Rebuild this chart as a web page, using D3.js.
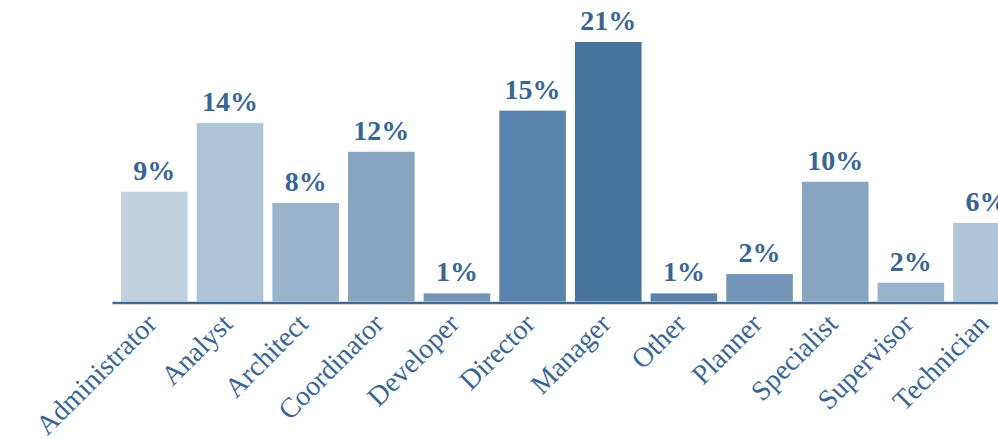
<!DOCTYPE html>
<html lang="en">
<head>
    <meta charset="UTF-8">
    <script src="https://cdnjs.cloudflare.com/ajax/libs/d3/7.8.5/d3.min.js"></script>
    <style>
        body {
            margin: 0;
            background: #fff;
        }

        svg text {
            font-family: "Times New Roman", Times, "Liberation Serif", serif;
        }
    </style>
</head>
<body>
<div id="chart"></div>

<script>
    var roles = ["Administrator", "Analyst", "Architect", "Coordinator", "Developer", "Director",
        "Manager", "Other", "Planner", "Specialist", "Supervisor", "Technician"];
    var shares = [8.8, 14.3, 7.9, 12.0, 0.65, 15.3, 20.8, 0.65, 2.2, 9.6, 1.5, 6.3];
    var barColors = ["#c1d0df", "#aec3d8", "#9ab3cc", "#87a5c1", "#7295b8", "#5a84ad",
        "#4775a0", "#5a84ad", "#7295b8", "#87a5c1", "#9ab3cc", "#aec3d8"];

    var width = 998, height = 439;
    var textColor = "#386593";
    var step = 75.65;

    var svg = d3.select("#chart").append("svg")
        .attr("width", width)
        .attr("height", height);

    // chart runs past the right edge of the window, like the original
    var x = d3.scaleBand()
        .domain(roles)
        .range([112, 112 + step * 12.12])
        .paddingInner(0.12)
        .paddingOuter(0.12);

    var y = d3.scaleLinear()
        .domain([0, d3.max(shares)])
        .range([301.5, 42]);

    var data = roles.map(function (r, i) {
        return {role: r, value: shares[i], color: barColors[i]};
    });

    svg.selectAll("rect.bar")
        .data(data)
        .enter().append("rect")
        .attr("class", "bar")
        .attr("x", function (d) { return x(d.role); })
        .attr("width", x.bandwidth())
        .attr("y", function (d) { return y(d.value); })
        .attr("height", function (d) { return y(0) - y(d.value); })
        .attr("fill", function (d) { return d.color; });

    svg.selectAll("text.value")
        .data(data)
        .enter().append("text")
        .attr("class", "value")
        .attr("x", function (d) { return x(d.role) + x.bandwidth() / 2; })
        .attr("y", function (d) { return y(d.value) - 12; })
        .attr("text-anchor", "middle")
        .attr("font-size", 28)
        .attr("font-weight", "bold")
        .attr("fill", textColor)
        .text(function (d) { return Math.round(d.value) + "%"; });

    var axis = svg.append("g")
        .attr("transform", "translate(0,302.5)")
        .call(d3.axisBottom(x).tickSize(0).tickSizeOuter(0));

    axis.attr("font-family", null);

    axis.select(".domain")
        .attr("stroke", "#3d6a99")
        .attr("stroke-width", 2.5);

    axis.selectAll(".tick text")
        .attr("font-size", 28)
        .attr("fill", textColor)
        .attr("text-anchor", "end")
        .attr("x", 0)
        .attr("y", 0)
        .attr("dy", 0)
        .attr("transform", "translate(4,23) rotate(-45)");
</script>
</body>
</html>
